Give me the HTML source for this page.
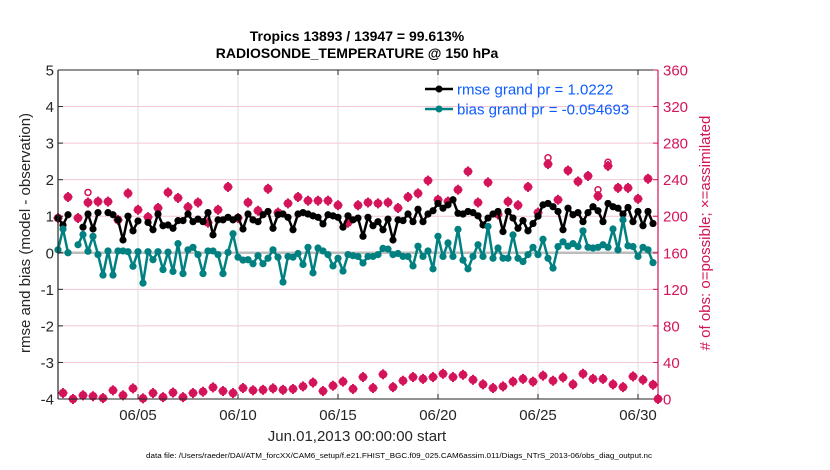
<!DOCTYPE html>
<html><head><meta charset="utf-8">
<style>
html,body{margin:0;padding:0;background:#fff;}
svg{display:block;font-family:"Liberation Sans",Arial,sans-serif;}
</style></head>
<body>
<svg id="chart" width="830" height="470" viewBox="0 0 830 470" xmlns="http://www.w3.org/2000/svg">
  <rect x="0" y="0" width="830" height="470" fill="#ffffff"/>
  <g id="grid"></g>
  <g id="series"></g>
  <g id="axes"></g>
  <text x="357" y="41" text-anchor="middle" font-size="14" font-weight="bold" fill="#000">Tropics 13893 / 13947 = 99.613%</text>
  <text x="357" y="58" text-anchor="middle" font-size="14" font-weight="bold" fill="#000">RADIOSONDE_TEMPERATURE @ 150 hPa</text>
  <text x="0" y="0" text-anchor="middle" font-size="15" fill="#262626" transform="translate(30,233) rotate(-90)">rmse and bias (model - observation)</text>
  <text x="0" y="0" text-anchor="middle" font-size="15" fill="#d4145a" transform="translate(710,233) rotate(-90)"># of obs: o=possible; ×=assimilated</text>
  <text x="357" y="441" text-anchor="middle" font-size="15" fill="#262626">Jun.01,2013 00:00:00 start</text>
  <text x="399" y="458" text-anchor="middle" font-size="7" fill="#000" textLength="506" lengthAdjust="spacingAndGlyphs">data file: /Users/raeder/DAI/ATM_forcXX/CAM6_setup/f.e21.FHIST_BGC.f09_025.CAM6assim.011/Diags_NTrS_2013-06/obs_diag_output.nc</text>
  <g id="legend">
    <line x1="425" y1="89" x2="453" y2="89" stroke="#000" stroke-width="2.5"/>
    <circle cx="439" cy="89" r="3.5" fill="#000"/>
    <text x="457" y="94.5" font-size="15" fill="#0b5cff">rmse grand pr = 1.0222</text>
    <line x1="425" y1="109" x2="453" y2="109" stroke="#008080" stroke-width="2.5"/>
    <circle cx="439" cy="109" r="3.5" fill="#008080"/>
    <text x="457" y="114.5" font-size="15" fill="#0b5cff">bias grand pr = -0.054693</text>
  </g>
</svg>
<script>
// ---- data ----
const xTickDays = [5, 10, 15, 20, 25, 30];
const xTickLabels = ["06/05", "06/10", "06/15", "06/20", "06/25", "06/30"];
const leftTicks = [5, 4, 3, 2, 1, 0, -1, -2, -3, -4];
const rightTicks = [360, 320, 280, 240, 200, 160, 120, 80, 40, 0];
const rmse = [0.95,0.76,1.04,null,null,0.7,1.06,0.65,1.1,null,1.1,1.04,0.9,0.35,1.0,0.6,0.87,null,0.83,0.63,1.06,0.74,0.76,0.67,0.88,0.88,1.06,0.85,0.92,0.85,
  1.1,0.49,0.9,0.9,0.97,0.9,0.97,0.65,1.06,0.9,0.85,1.04,1.13,0.67,1.04,1.06,0.97,0.63,1.06,1.1,1.06,1.01,0.97,0.79,1.04,1.01,0.97,0.7,1.01,0.9,
  0.95,0.45,0.97,0.74,0.85,0.63,0.92,0.35,0.9,0.88,1.06,0.85,1.19,0.85,1.06,1.15,1.35,1.22,1.31,1.45,1.08,1.06,1.13,1.1,1.01,0.76,0.95,1.06,1.13,0.58,
  1.13,0.95,0.67,0.88,0.6,0.8,1.0,1.31,1.35,1.26,1.13,0.63,1.22,1.04,1.1,0.85,1.1,1.26,1.15,0.85,1.35,1.26,1.22,1.06,1.24,0.85,1.13,0.74,1.13,0.8];
const bias = [0.08,0.65,0.0,null,0.22,0.5,0.04,0.45,-0.05,-0.61,0.05,-0.61,0.05,0.05,0.03,-0.37,0.03,-0.83,0.03,-0.19,0.03,-0.46,0.02,-0.51,0.25,-0.57,0.08,0.15,-0.05,-0.57,
  0.05,0.05,-0.05,-0.57,0.01,0.52,-0.12,-0.2,-0.19,-0.3,-0.08,-0.3,-0.15,0.08,-0.12,-0.8,-0.1,-0.12,-0.02,-0.32,0.15,-0.55,0.13,0.05,-0.05,-0.36,-0.15,-0.5,-0.05,-0.08,
  -0.1,-0.28,-0.1,-0.1,-0.05,0.12,0.1,-0.05,-0.02,-0.1,-0.1,-0.36,0.18,-0.1,0.05,-0.44,0.45,-0.1,0.27,-0.1,0.64,-0.2,-0.44,-0.1,0.22,-0.1,0.72,-0.15,0.13,-0.15,
  -0.15,0.49,-0.15,-0.24,-0.05,0.15,-0.05,0.37,-0.15,-0.42,0.17,0.3,0.18,0.25,0.17,0.6,0.15,0.13,0.15,0.22,0.15,0.65,0.08,0.9,0.19,0.17,-0.1,0.15,0.08,-0.27];
const assimilated = [198,221,198,215,216,216,196,225,207,199,209,226,220,210,215,193,207,232,198,215,206,230,204,214,221,217,217,217,212,193,
  212,215,214,215,209,221,225,239,218,216,229,249,215,237,202,216,212,232,204,257,218,250,238,244,222,255,231,231,219,241];
const possible = [198,221,198,226,216,216,196,225,207,199,209,226,220,210,215,193,207,232,198,215,206,230,204,214,221,217,217,217,212,193,
  212,215,214,215,209,221,225,239,218,216,229,249,215,237,202,216,212,232,204,264,218,250,238,244,229,259,231,231,219,241];
const lowCounts = [6.5,0,4,3,1,9.5,4,11.6,0.7,6.5,2,7,2,6.5,8,12.7,8.7,6.5,12,9.5,10,11.6,10,11,13.8,18,8.7,14.5,19,11,
  24,12,27,13,20,24,22,24,27.6,24,26.5,21,16,12,13.8,19,22,19,25.5,20,23.6,16,27.6,22,22,16,13,24.7,21,15.6,0];

// ---- scales ----
const X0 = 58, X1 = 658, YT = 70, YB = 399;
const xs = d => X0 + (X1 - X0) * d / 30;
const yl = v => YB - (v + 4) / 9 * (YB - YT);
const yr = v => YB - v / 360 * (YB - YT);
const RED = "#d4145a", TEAL = "#008080";
const NS = "http://www.w3.org/2000/svg";
function mk(tag, attrs, parent) {
  const e = document.createElementNS(NS, tag);
  for (const k in attrs) e.setAttribute(k, attrs[k]);
  parent.appendChild(e);
  return e;
}
const grid = document.getElementById('grid');
const series = document.getElementById('series');
const axes = document.getElementById('axes');

rightTicks.forEach(t => {
  const l = mk('line', {x1: X0, x2: X1, y1: yr(t), y2: yr(t), stroke: '#f2c6d6', 'stroke-width': 1}, grid);
  
  
});
xTickDays.forEach(d => {
  const l = mk('line', {x1: xs(d - 1), x2: xs(d - 1), y1: YT, y2: YB, stroke: '#dcdcdc', 'stroke-width': 1}, grid);
  
  
});
const zl = mk('line', {x1: X0, x2: X1, y1: yl(0), y2: yl(0), stroke: '#bdbdbd', 'stroke-width': 2.5}, grid);



function drawLine(vals, color, name) {
  let segs = [], cur = [];
  vals.forEach((v, i) => {
    if (v === null) { if (cur.length) segs.push(cur); cur = []; }
    else cur.push([xs(i * 0.25), yl(v)]);
  });
  if (cur.length) segs.push(cur);
  segs.forEach(s => {
    const p = mk('polyline', {points: s.map(q => q.join(',')).join(' '), fill: 'none', stroke: color, 'stroke-width': 2.5, 'stroke-linejoin': 'round'}, series);
    
    
  });
  vals.forEach((v, i) => {
    if (v === null) return;
    const c = mk('circle', {cx: xs(i * 0.25), cy: yl(v), r: 3.6, fill: color}, series);
    
    
  });
}

function star(x, y, name) {
  const g = mk('g', {stroke: RED, 'stroke-width': 2, fill: 'none'}, series);
  
  
  mk('circle', {cx: x, cy: y, r: 3.2, fill: RED}, g);
  mk('line', {x1: x - 4.5, x2: x + 4.5, y1: y, y2: y}, g);
  mk('line', {x1: x, x2: x, y1: y - 5, y2: y + 5}, g);
  mk('line', {x1: x - 3, x2: x + 3, y1: y - 3, y2: y + 3}, g);
  mk('line', {x1: x - 3, x2: x + 3, y1: y + 3, y2: y - 3}, g);
}
possible.forEach((v, k) => {
  const c = mk('circle', {cx: xs(k * 0.5), cy: yr(v), r: 3, fill: 'none', stroke: RED, 'stroke-width': 1.5}, series);
  
  
});
assimilated.forEach((v, k) => star(xs(k * 0.5), yr(v), 'assimilated-count-marker'));
lowCounts.forEach((v, k) => {
  const d = k < 60 ? 0.25 + 0.5 * k : 30;
  star(xs(d), yr(v), 'low-count-marker');
});

drawLine(rmse, '#000000', 'rmse');
drawLine(bias, TEAL, 'bias');

const box = mk('line', {x1: X0, x2: X1, y1: YT, y2: YT, stroke: '#262626', 'stroke-width': 1}, axes);


const bx = mk('line', {x1: X0, x2: X1, y1: YB, y2: YB, stroke: '#262626', 'stroke-width': 1}, axes);


const la = mk('line', {x1: X0, x2: X0, y1: YT, y2: YB, stroke: '#262626', 'stroke-width': 1.2}, axes);


const ra = mk('line', {x1: X1, x2: X1, y1: YT, y2: YB, stroke: RED, 'stroke-width': 1.2}, axes);



leftTicks.forEach(t => {
  const y = yl(t);
  mk('line', {x1: X0, x2: X0 + 5, y1: y, y2: y, stroke: '#262626'}, axes);
  const tx = mk('text', {x: 54, y: y + 5.5, 'text-anchor': 'end', 'font-size': 15, fill: '#262626'}, axes);
  tx.textContent = t;
  
  
});
rightTicks.forEach(t => {
  const y = yr(t);
  mk('line', {x1: X1 - 5, x2: X1, y1: y, y2: y, stroke: RED}, axes);
  const tx = mk('text', {x: 663, y: y + 5.5, 'font-size': 15, fill: RED}, axes);
  tx.textContent = t;
  
  
});
xTickDays.forEach((d, i) => {
  const x = xs(d - 1);
  mk('line', {x1: x, x2: x, y1: YB, y2: YB - 5, stroke: '#262626'}, axes);
  mk('line', {x1: x, x2: x, y1: YT, y2: YT + 5, stroke: '#262626'}, axes);
  const tx = mk('text', {x: x, y: 420, 'text-anchor': 'middle', 'font-size': 15, fill: '#262626'}, axes);
  tx.textContent = xTickLabels[i];
  
  
});
</script>
</body></html>
